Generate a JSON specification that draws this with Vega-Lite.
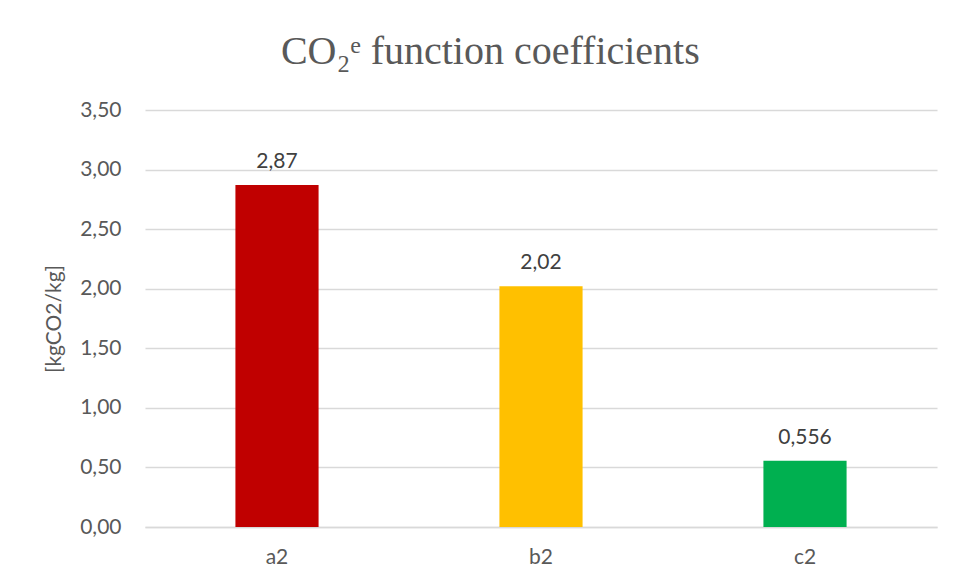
{
  "$schema": "https://vega.github.io/schema/vega-lite/v6.json",
  "width": 792,
  "height": 417,
  "autosize": "none",
  "padding": {"left": 145, "top": 110, "right": 20, "bottom": 59},
  "background": "white",
  "config": {
    "view": {"stroke": null},
    "locale": {
      "number": {"decimal": ",", "thousands": ".", "grouping": [3], "currency": ["", " €"]}
    }
  },
  "title": {
    "text": "CO₂ᵉ function coefficients",
    "font": "Liberation Serif",
    "fontSize": 40,
    "fontWeight": "normal",
    "color": "#595959",
    "anchor": "middle",
    "frame": "bounds",
    "offset": 27
  },
  "data": {
    "values": [
      {"coefficient": "a2", "value": 2.87},
      {"coefficient": "b2", "value": 2.02},
      {"coefficient": "c2", "value": 0.556}
    ]
  },
  "encoding": {
    "x": {
      "field": "coefficient",
      "type": "nominal",
      "sort": null,
      "scale": {"paddingInner": 0.685, "paddingOuter": 0.3425},
      "axis": {
        "title": null,
        "labelAngle": 0,
        "labelFont": "Lato",
        "labelFontSize": 21,
        "labelColor": "#595959",
        "labelPadding": 19,
        "ticks": false,
        "domain": true,
        "domainColor": "#d9d9d9",
        "domainWidth": 1.5
      }
    },
    "y": {
      "field": "value",
      "type": "quantitative",
      "scale": {"domain": [0, 3.5], "nice": false},
      "axis": {
        "title": "[kgCO2/kg]",
        "titleFont": "Lato",
        "titleFontSize": 21,
        "titleFontWeight": "normal",
        "titleColor": "#595959",
        "titlePadding": 15,
        "values": [0, 0.5, 1, 1.5, 2, 2.5, 3, 3.5],
        "format": ".2f",
        "labelFont": "Lato",
        "labelFontSize": 21,
        "labelColor": "#595959",
        "labelPadding": 24,
        "ticks": false,
        "domain": false,
        "grid": true,
        "gridColor": "#d9d9d9",
        "gridWidth": 1.5
      }
    }
  },
  "layer": [
    {
      "mark": {"type": "bar"},
      "encoding": {
        "color": {
          "field": "coefficient",
          "type": "nominal",
          "scale": {"domain": ["a2", "b2", "c2"], "range": ["#C00000", "#FFC000", "#00B050"]},
          "legend": null
        }
      }
    },
    {
      "mark": {
        "type": "text",
        "baseline": "bottom",
        "dy": -13,
        "font": "Lato",
        "fontSize": 21,
        "color": "#404040"
      },
      "encoding": {
        "text": {"field": "value", "type": "quantitative", "format": ".3r"}
      }
    }
  ]
}
